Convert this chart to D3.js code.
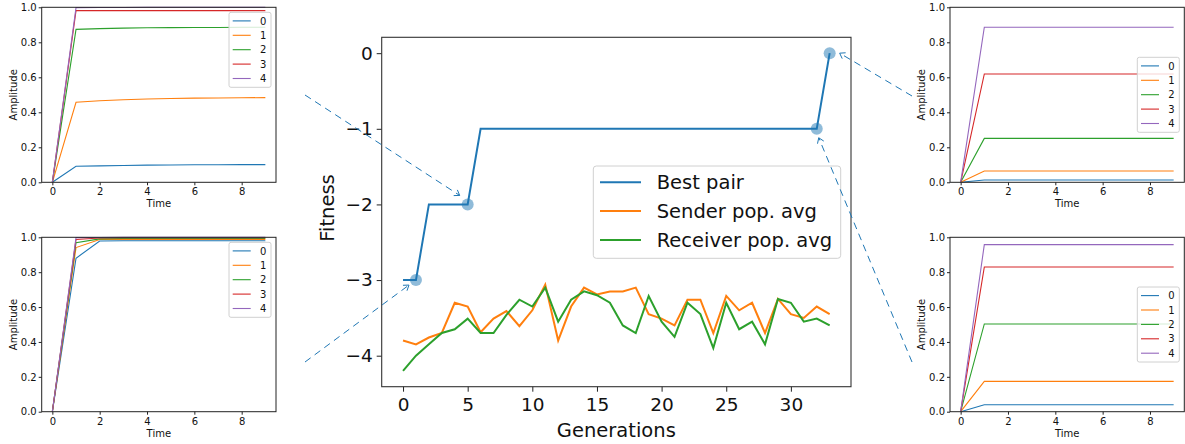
<!DOCTYPE html>
<html><head><meta charset="utf-8">
<script src="https://cdn.jsdelivr.net/npm/d3@7"></script>
<style>
body{margin:0;background:#fff;}
svg{display:block;font-family:"DejaVu Sans",sans-serif;}
</style></head><body>
<svg id="chart" width="1185" height="444"></svg>
<script>
// ---------------- data ----------------
const generations = [0,1,2,3,4,5,6,7,8,9,10,11,12,13,14,15,16,17,18,19,20,21,22,23,24,25,26,27,28,29,30,31,32,33];
const bestPair = [-3,-3,-2,-2,-2,-2,-1,-1,-1,-1,-1,-1,-1,-1,-1,-1,-1,-1,-1,-1,-1,-1,-1,-1,-1,-1,-1,-1,-1,-1,-1,-1,-1,0];
const senderAvg = [-3.80,-3.85,-3.76,-3.70,-3.30,-3.35,-3.69,-3.51,-3.41,-3.61,-3.40,-3.06,-3.80,-3.35,-3.10,-3.19,-3.15,-3.15,-3.10,-3.45,-3.51,-3.60,-3.26,-3.26,-3.70,-3.21,-3.40,-3.30,-3.70,-3.25,-3.45,-3.50,-3.35,-3.45];
const receiverAvg = [-4.20,-4.00,-3.85,-3.70,-3.65,-3.51,-3.70,-3.70,-3.46,-3.26,-3.35,-3.10,-3.55,-3.26,-3.15,-3.20,-3.30,-3.60,-3.70,-3.21,-3.55,-3.75,-3.30,-3.45,-3.90,-3.30,-3.65,-3.55,-3.85,-3.25,-3.30,-3.55,-3.51,-3.60];
const highlightGens = [1,5,32,33];
const seriesNames = ["Best pair","Sender pop. avg","Receiver pop. avg"];
const fitnessTicks = [0,-1,-2,-3,-4];
const generationTicks = [0,5,10,15,20,25,30];

const timeSteps = [0,1,2,3,4,5,6,7,8,9];
const ampLabels = ["0","1","2","3","4"];
const ampTicks = [0,0.2,0.4,0.6,0.8,1.0];
const timeTicks = [0,2,4,6,8];
const ampTopLeft = [
  [0,0.092,0.094,0.096,0.098,0.099,0.100,0.100,0.101,0.101],
  [0,0.457,0.466,0.472,0.476,0.479,0.481,0.482,0.483,0.484],
  [0,0.874,0.878,0.881,0.883,0.884,0.885,0.885,0.886,0.886],
  [0,0.981,0.981,0.981,0.981,0.981,0.981,0.981,0.981,0.981],
  [0,0.998,0.999,0.999,1.000,1.000,1.000,1.000,1.000,1.000]
];
const ampBottomLeft = [
  [0,0.880,0.979,0.980,0.980,0.980,0.980,0.980,0.980,0.980],
  [0,0.941,0.987,0.988,0.988,0.988,0.988,0.988,0.988,0.988],
  [0,0.969,0.991,0.993,0.993,0.993,0.993,0.993,0.993,0.993],
  [0,0.987,0.996,0.997,0.997,0.997,0.997,0.997,0.997,0.997],
  [0,0.998,0.999,1.000,1.000,1.000,1.000,1.000,1.000,1.000]
];
const ampTopRight = [
  [0,0.013,0.013,0.013,0.013,0.013,0.013,0.013,0.013,0.013],
  [0,0.065,0.065,0.065,0.065,0.065,0.065,0.065,0.065,0.065],
  [0,0.251,0.251,0.251,0.251,0.251,0.251,0.251,0.251,0.251],
  [0,0.619,0.619,0.619,0.619,0.619,0.619,0.619,0.619,0.619],
  [0,0.886,0.886,0.886,0.886,0.886,0.886,0.886,0.886,0.886]
];
const ampBottomRight = [
  [0,0.040,0.040,0.040,0.040,0.040,0.040,0.040,0.040,0.040],
  [0,0.174,0.174,0.174,0.174,0.174,0.174,0.174,0.174,0.174],
  [0,0.503,0.503,0.503,0.503,0.503,0.503,0.503,0.503,0.503],
  [0,0.830,0.830,0.830,0.830,0.830,0.830,0.830,0.830,0.830],
  [0,0.958,0.958,0.958,0.958,0.958,0.958,0.958,0.958,0.958]
];

// ---------------- styles / layout ----------------
const colors = ["#1f77b4","#ff7f0e","#2ca02c","#d62728","#9467bd"];
const svg = d3.select("#chart");

// ---------------- main chart ----------------
const M = {l:381.7, r:851, t:37.3, b:386.7};
const x = d3.scaleLinear().domain([-1.65, 34.65]).range([M.l, M.r]);
const y = d3.scaleLinear().domain([-4.41, 0.21]).range([M.b, M.t]);
const main = svg.append("g");

function styleAxis(g, fs){
  g.select(".domain").remove();
  g.selectAll(".tick line").attr("stroke","#222").attr("stroke-width",1);
  g.selectAll(".tick text").attr("fill","#111").style("font-size",fs+"px").style("font-family","'DejaVu Sans'");
}
main.append("g").attr("transform",`translate(0,${M.b})`)
  .call(d3.axisBottom(x).tickValues(generationTicks).tickSize(5).tickPadding(6).tickFormat(d3.format("d")))
  .call(g=>styleAxis(g,18.5));
main.append("g").attr("transform",`translate(${M.l},0)`)
  .call(d3.axisLeft(y).tickValues(fitnessTicks).tickSize(5).tickPadding(4).tickFormat(d3.format("d")))
  .call(g=>styleAxis(g,18.5));

const mainSeries = [bestPair, senderAvg, receiverAvg];
const line = d3.line().x((d,i)=>x(generations[i])).y(d=>y(d));
mainSeries.forEach((s,k)=>{
  main.append("path").datum(s).attr("d",line).attr("fill","none")
    .attr("stroke",colors[k]).attr("stroke-width",2).attr("stroke-linejoin","miter");
});
main.selectAll("circle.hl").data(highlightGens).join("circle").attr("class","hl")
  .attr("cx",g=>x(g)).attr("cy",g=>y(bestPair[g])).attr("r",6)
  .attr("fill",colors[0]).attr("fill-opacity",0.5);

main.append("rect").attr("x",M.l).attr("y",M.t).attr("width",M.r-M.l).attr("height",M.b-M.t)
  .attr("fill","none").attr("stroke","#333").attr("stroke-width",1.1);

main.append("text").attr("x",(M.l+M.r)/2).attr("y",436.5).attr("text-anchor","middle")
  .style("font-size","19.5px").attr("fill","#111").text("Generations");
main.append("text").attr("transform",`translate(334,208) rotate(-90)`).attr("text-anchor","middle")
  .style("font-size","19.5px").attr("fill","#111").text("Fitness");

// main legend
const LG = {x0:M.r-257.7, y0:M.t+128.7, w:247.4, h:92.3, row:28.8};
const lg = main.append("g");
lg.append("rect").attr("x",LG.x0).attr("y",LG.y0).attr("width",LG.w).attr("height",LG.h)
  .attr("rx",3).attr("fill","#fff").attr("fill-opacity",0.8).attr("stroke","#d0d0d0").attr("stroke-width",1);
seriesNames.forEach((n,k)=>{
  const yy = LG.y0+16.3+k*LG.row;
  lg.append("line").attr("x1",LG.x0+6.7).attr("x2",LG.x0+47.7).attr("y1",yy).attr("y2",yy)
    .attr("stroke",colors[k]).attr("stroke-width",2);
  lg.append("text").attr("x",LG.x0+63.4).attr("y",yy+7).style("font-size","19.5px").attr("fill","#111").text(n);
});

// ---------------- small panels ----------------
function drawPanel(box, data, legendAt){
  const g = svg.append("g");
  const px = d3.scaleLinear().domain([-0.45, 9.45]).range([box.l, box.r]);
  const py = d3.scaleLinear().domain([0, 1]).range([box.b, box.t]);
  g.append("g").attr("transform",`translate(0,${box.b})`)
    .call(d3.axisBottom(px).tickValues(timeTicks).tickSize(3).tickPadding(3).tickFormat(d3.format("d")))
    .call(a=>styleAxis(a,10));
  g.append("g").attr("transform",`translate(${box.l},0)`)
    .call(d3.axisLeft(py).tickValues(ampTicks).tickSize(3).tickPadding(2).tickFormat(d3.format(".1f")))
    .call(a=>styleAxis(a,10));
  const ln = d3.line().x((d,i)=>px(timeSteps[i])).y(d=>py(d));
  data.forEach((s,k)=>{
    g.append("path").datum(s).attr("d",ln).attr("fill","none").attr("stroke",colors[k]).attr("stroke-width",1.1);
  });
  g.append("rect").attr("x",box.l).attr("y",box.t).attr("width",box.r-box.l).attr("height",box.b-box.t)
    .attr("fill","none").attr("stroke","#222").attr("stroke-width",1);
  g.append("text").attr("x",(box.l+box.r)/2).attr("y",box.b+25).attr("text-anchor","middle")
    .style("font-size","10px").attr("fill","#111").text("Time");
  g.append("text").attr("transform",`translate(${box.l-25},${(box.t+box.b)/2}) rotate(-90)`).attr("text-anchor","middle")
    .style("font-size","10px").attr("fill","#111").text("Amplitude");
  // legend
  const w = 42, h = 75, rowH = 14.4;
  const lx = box.r - 5 - w;
  const ly = legendAt === "upper" ? box.t + 5 : (box.t+box.b)/2 - h/2;
  g.append("rect").attr("x",lx).attr("y",ly).attr("width",w).attr("height",h).attr("rx",2)
    .attr("fill","#fff").attr("fill-opacity",0.8).attr("stroke","#d0d0d0").attr("stroke-width",1);
  ampLabels.forEach((n,k)=>{
    const yy = ly + 8.6 + k*rowH;
    g.append("line").attr("x1",lx+3.7).attr("x2",lx+21.7).attr("y1",yy).attr("y2",yy)
      .attr("stroke",colors[k]).attr("stroke-width",1.1);
    g.append("text").attr("x",lx+31).attr("y",yy+3.6).style("font-size","10px").attr("fill","#111").text(n);
  });
}
drawPanel({l:41.7, r:276, t:7.3, b:182.3}, ampTopLeft, "upper");
drawPanel({l:41.7, r:276, t:237.3, b:411.7}, ampBottomLeft, "upper");
drawPanel({l:950, r:1184.3, t:7.3, b:182.3}, ampTopRight, "center");
drawPanel({l:950, r:1184.3, t:237.3, b:411.7}, ampBottomRight, "center");

// ---------------- dashed arrows ----------------
const arrows = [
  {from:[305,95],  gen:5,  tip:[-8,-9]},
  {from:[305,362], gen:1,  tip:[-7,5]},
  {from:[912,96],  gen:33, tip:[10,0]},
  {from:[912,362], gen:32, tip:[2,9]}
];
const ag = svg.append("g");
arrows.forEach(a=>{
  const ex = x(a.gen)+a.tip[0], ey = y(bestPair[a.gen])+a.tip[1];
  const [sx,sy] = a.from;
  ag.append("line").attr("x1",sx).attr("y1",sy).attr("x2",ex).attr("y2",ey)
    .attr("stroke",colors[0]).attr("stroke-width",1).attr("stroke-dasharray","7,5");
  const ang = Math.atan2(sy-ey, sx-ex), L = 6, spread = 0.6;
  const p1 = [ex+L*Math.cos(ang+spread), ey+L*Math.sin(ang+spread)];
  const p2 = [ex+L*Math.cos(ang-spread), ey+L*Math.sin(ang-spread)];
  ag.append("path").attr("d",`M${p1[0]},${p1[1]}L${ex},${ey}L${p2[0]},${p2[1]}`)
    .attr("fill","none").attr("stroke",colors[0]).attr("stroke-width",1);
});
</script>
</body></html>
